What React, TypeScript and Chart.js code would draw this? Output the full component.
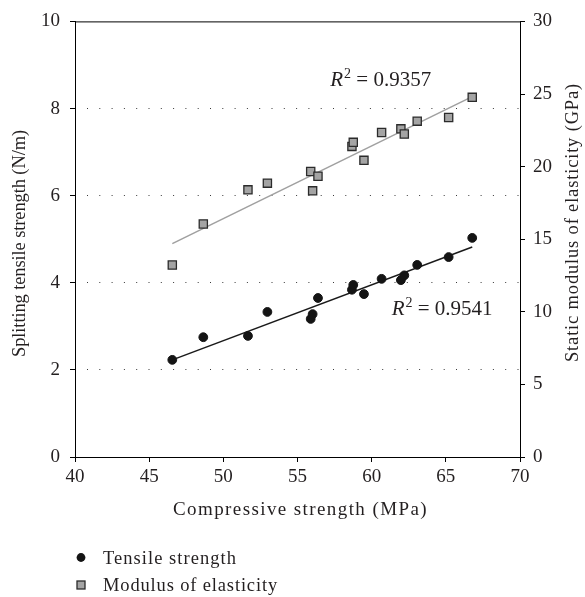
import React, { useEffect, useRef } from "react";
import { Chart, registerables } from "chart.js";

Chart.register(...registerables);

// ---- data ----
const compressive = [46.56, 48.65, 51.66, 52.97, 55.89, 56.02, 56.38, 58.67, 58.76, 59.48, 60.67, 61.97, 62.2, 63.07, 65.19, 66.78];
const tensile = [2.23, 2.75, 2.78, 3.33, 3.17, 3.28, 3.65, 3.84, 3.95, 3.74, 4.09, 4.06, 4.17, 4.41, 4.59, 5.03];
const modulus = [13.22, 16.05, 18.4, 18.86, 19.66, 18.33, 19.34, 21.39, 21.67, 20.43, 22.35, 22.6, 22.24, 23.13, 23.38, 24.77];

const tensileTrendX = [46.56, 66.78];
const tensileTrendY = [2.23, 4.82];
const modulusTrendX = [46.56, 66.78];
const modulusTrendY = [14.7, 24.82];

const r2Values = ["0.9357", "0.9541"];
const r2X = [57.21, 61.35];
const r2Y = [8.51, 3.265]; // left-axis units (text baseline)

const xMin = 40, xMax = 70, xStep = 5;
const yMin = 0, yMax = 10, yStep = 2;
const y2Min = 0, y2Max = 30, y2Step = 5;

const legendLabels = ["Tensile strength", "Modulus of elasticity"];
const xTitle = "Compressive strength (MPa)";
const yTitle = "Splitting tensile strength (N/m)";
const y2Title = "Static modulus of elasticity (GPa)";

const FONT = '"Liberation Serif", "Times New Roman", serif';
const TXT = "#231f20";

function drawFitted(ctx: CanvasRenderingContext2D, text: string, x: number, y: number, size: number, target: number) {
  ctx.font = `${size}px ${FONT}`;
  (ctx as any).letterSpacing = "0px";
  const w = ctx.measureText(text).width;
  const ls = (target - w) / text.length;
  (ctx as any).letterSpacing = `${ls}px`;
  ctx.textAlign = "left";
  ctx.textBaseline = "alphabetic";
  ctx.fillText(text, x - target / 2, y);
  (ctx as any).letterSpacing = "0px";
}

const decorPlugin = {
  id: "decor",
  afterDraw(chart: any) {
    const { ctx, chartArea, scales } = chart;
    ctx.save();
    // top frame
    ctx.strokeStyle = "#000";
    ctx.lineWidth = 1;
    ctx.beginPath();
    ctx.moveTo(chartArea.left, chartArea.top + 0.5);
    ctx.lineTo(chartArea.right, chartArea.top + 0.5);
    ctx.stroke();

    ctx.fillStyle = TXT;
    // R^2 labels
    for (let i = 0; i < r2Values.length; i++) {
      let x = scales.x.getPixelForValue(r2X[i]);
      const y = scales.y.getPixelForValue(r2Y[i]);
      ctx.textAlign = "left";
      ctx.textBaseline = "alphabetic";
      ctx.font = `italic 21px ${FONT}`;
      ctx.fillText("R", x, y);
      x += ctx.measureText("R").width + 1;
      ctx.font = `14px ${FONT}`;
      ctx.fillText("2", x, y - 8);
      x += ctx.measureText("2").width;
      ctx.font = `21px ${FONT}`;
      ctx.fillText(" = " + r2Values[i], x, y);
    }

    // axis titles
    drawFitted(ctx, xTitle, 300.5, 515, 19, 255);
    ctx.save();
    ctx.translate(24.5, 243.5);
    ctx.rotate(-Math.PI / 2);
    drawFitted(ctx, yTitle, 0, 0, 18.5, 227);
    ctx.restore();
    ctx.save();
    ctx.translate(577.5, 222.5);
    ctx.rotate(-Math.PI / 2);
    drawFitted(ctx, y2Title, 0, 0, 18.5, 279);
    ctx.restore();

    // legend
    const ds0 = chart.data.datasets[0];
    const ds1 = chart.data.datasets[1];
    ctx.fillStyle = ds0.backgroundColor;
    ctx.beginPath();
    ctx.arc(81, 557.5, 4.4, 0, Math.PI * 2);
    ctx.fill();
    ctx.fillStyle = ds1.backgroundColor;
    ctx.strokeStyle = ds1.borderColor;
    ctx.lineWidth = ds1.borderWidth;
    ctx.fillRect(77, 581, 8, 8);
    ctx.strokeRect(77, 581, 8, 8);
    ctx.fillStyle = TXT;
    drawFitted(ctx, legendLabels[0], 103 + 67, 564, 18.5, 134);
    drawFitted(ctx, legendLabels[1], 103 + 87.5, 590.5, 18.5, 175);
    ctx.restore();
  },
};

export default function App() {
  const ref = useRef<HTMLCanvasElement | null>(null);
  useEffect(() => {
    if (!ref.current) return;
    const tickFont = { family: FONT, size: 19 };
    const chart = new Chart(ref.current, {
      type: "scatter",
      data: {
        datasets: [
          {
            label: legendLabels[0],
            data: compressive.map((x, i) => ({ x, y: tensile[i] })),
            yAxisID: "y",
            pointStyle: "circle",
            pointRadius: 4.4,
            backgroundColor: "#141414",
            borderColor: "#141414",
            borderWidth: 1,
          },
          {
            label: legendLabels[1],
            data: compressive.map((x, i) => ({ x, y: modulus[i] })),
            yAxisID: "y2",
            pointStyle: "rect",
            pointRadius: 5.8,
            backgroundColor: "#a4a4a4",
            borderColor: "#2b2b2b",
            borderWidth: 1.3,
          },
          {
            label: "tensile trend",
            data: tensileTrendX.map((x, i) => ({ x, y: tensileTrendY[i] })),
            yAxisID: "y",
            showLine: true,
            pointRadius: 0,
            borderColor: "#1a1a1a",
            borderWidth: 1.5,
          },
          {
            label: "modulus trend",
            data: modulusTrendX.map((x, i) => ({ x, y: modulusTrendY[i] })),
            yAxisID: "y2",
            showLine: true,
            pointRadius: 0,
            borderColor: "#a0a0a0",
            borderWidth: 1.5,
          },
        ],
      } as any,
      options: {
        responsive: false,
        maintainAspectRatio: false,
        animation: false,
        layout: { padding: { top: 19, left: 0, right: 0, bottom: 0 } },
        plugins: { legend: { display: false }, tooltip: { enabled: false } },
        scales: {
          x: {
            type: "linear",
            min: xMin,
            max: xMax,
            ticks: { stepSize: xStep, font: tickFont, color: TXT, padding: 4 },
            grid: { drawOnChartArea: false, tickLength: 5, tickColor: "#000", color: "#000" },
            border: { color: "#000", width: 1 },
            afterFit: (s: any) => { s.height = 140; },
          },
          y: {
            type: "linear",
            position: "left",
            min: yMin,
            max: yMax,
            ticks: { stepSize: yStep, font: tickFont, color: TXT, padding: 10 },
            grid: {
              color: (c: any) => (c.tick && (c.tick.value === yMin || c.tick.value === yMax) ? "rgba(0,0,0,0)" : "#3a3a3a"),
              lineWidth: 1,
              tickLength: 5,
              tickColor: "#000",
            },
            border: { color: "#000", width: 1, dash: [1, 11.3], dashOffset: 1.3 },
            afterFit: (s: any) => { s.width = 75; },
          },
          y2: {
            type: "linear",
            position: "right",
            min: y2Min,
            max: y2Max,
            ticks: { stepSize: y2Step, font: tickFont, color: TXT, padding: 8 },
            grid: { drawOnChartArea: false, tickLength: 5, tickColor: "#000", color: "#000" },
            border: { color: "#000", width: 1 },
            afterFit: (s: any) => { s.width = 65; },
          },
        },
      } as any,
      plugins: [decorPlugin],
    });
    return () => chart.destroy();
  }, []);
  return (
    <div style={{ position: "absolute", left: 0, top: 0, width: 585, height: 597, background: "#fff" }}>
      <canvas ref={ref} width={585} height={597} style={{ display: "block" }} />
    </div>
  );
}
